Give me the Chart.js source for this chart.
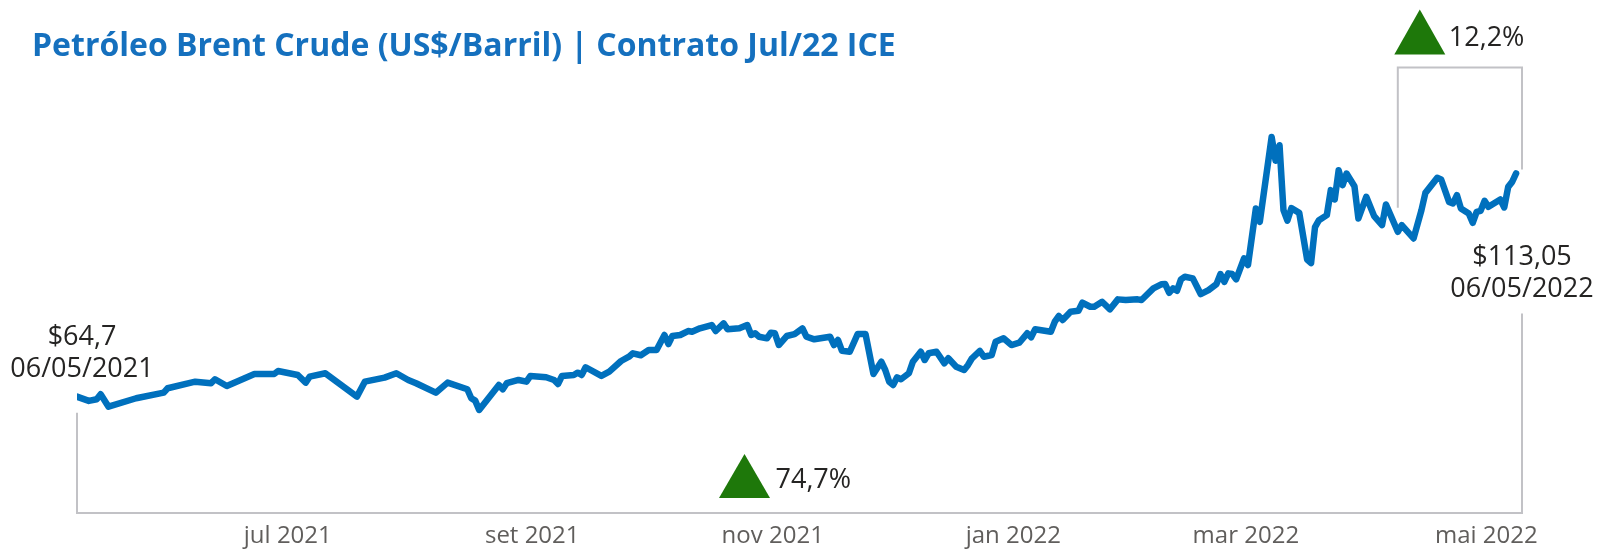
<!DOCTYPE html>
<html lang="pt-BR">
<head>
<meta charset="utf-8">
<title>Petróleo Brent Crude</title>
<script src="https://cdn.jsdelivr.net/npm/chart.js@4.4.1/dist/chart.umd.min.js"></script>
<style>
  html, body { margin: 0; padding: 0; background: #ffffff; }
  #grafico { display: block; }
</style>
</head>
<body>
<canvas id="grafico" width="1613" height="552"></canvas>
<script>
// Dias corridos desde 06/05/2021 e preço de fechamento (US$/barril)
const dias = [
  0, 3, 5, 6, 8, 15, 22, 23, 30, 34, 35, 38, 45, 50, 51, 56, 58, 59, 63, 71,
  73, 78, 81, 84, 86, 91, 94, 99, 100, 101, 102, 107, 108, 109, 112, 114, 115, 119, 121, 122,
  123, 126, 127, 128, 129, 133, 135, 138, 140, 141, 143, 145, 147, 149, 150, 151, 153, 155, 156, 158,
  161, 162, 164, 165, 168, 170, 171, 172, 173, 175, 176, 177, 178, 180, 182, 184, 185, 187, 191, 192,
  193, 194, 196, 198, 200, 202, 204, 205, 206, 207, 208, 209, 211, 212, 214, 215, 216, 218, 220, 221,
  223, 225, 226, 227, 229, 230, 232, 233, 235, 237, 239, 241, 242, 243, 247, 248, 249, 250, 252, 254,
  255, 257, 258, 260, 262, 264, 266, 269, 270, 273, 275, 276, 277, 278, 279, 280, 281, 283, 285, 287,
  289, 290, 291, 292, 293, 294, 296, 297, 299, 300, 303, 304, 305, 306, 307, 308, 310, 312, 313, 314,
  315, 317, 318, 319, 320, 321, 322, 324, 325, 327, 329, 331, 332, 335, 336, 339, 341, 342, 345, 346,
  348, 349, 350, 351, 353, 354, 355, 356, 357, 358, 361, 362, 363, 364, 365
];
const precos = [
  64.70, 63.78, 64.14, 65.23, 62.54, 64.36, 65.57, 66.52, 67.95, 67.61, 68.47, 67.02, 69.62, 69.62, 70.27, 69.40, 67.74, 69.03, 69.77, 64.71,
  67.95, 68.82, 69.77, 68.32, 67.61, 65.57, 67.74, 66.31, 64.36, 63.84, 61.83, 67.24, 66.31, 67.61, 68.32, 67.95, 69.19, 68.90, 68.32, 67.45,
  69.19, 69.40, 69.90, 69.40, 71.07, 69.19, 70.12, 72.43, 73.36, 74.10, 73.67, 74.81, 74.81, 78.06, 76.11, 77.84, 78.06, 78.92, 78.77, 79.51,
  80.22, 78.92, 80.59, 79.29, 79.51, 80.22, 78.06, 78.43, 77.69, 77.34, 78.56, 78.43, 75.89, 77.84, 78.27, 79.51, 77.69, 77.13, 77.69, 75.89,
  76.98, 74.66, 74.44, 78.27, 78.27, 69.62, 72.28, 70.48, 67.95, 67.24, 68.90, 68.47, 69.77, 72.28, 74.44, 72.65, 74.10, 74.44, 71.93, 73.02,
  71.20, 70.48, 71.57, 73.02, 74.60, 73.36, 73.73, 76.61, 77.34, 75.89, 76.39, 78.43, 77.56, 79.29, 78.77, 80.94, 82.17, 81.30, 83.10, 83.32,
  85.05, 84.18, 84.18, 85.26, 83.62, 85.78, 85.63, 85.78, 85.63, 88.16, 89.03, 89.09, 87.21, 88.16, 87.64, 90.11, 90.67, 90.33, 86.93, 87.80,
  89.09, 91.26, 89.59, 91.41, 91.26, 90.11, 94.66, 93.21, 105.48, 102.58, 120.97, 115.82, 119.17, 105.11, 102.84, 105.54, 104.52, 94.40, 93.64, 101.43,
  102.94, 104.03, 109.44, 107.42, 113.76, 110.52, 113.05, 110.30, 103.31, 107.99, 103.81, 101.86, 106.34, 100.41, 101.86, 98.98, 105.11, 108.85, 112.10, 111.75,
  106.90, 106.56, 108.35, 105.48, 104.39, 102.36, 104.74, 104.96, 107.12, 105.82, 107.42, 105.69, 110.15, 111.23, 113.05
];

// Rótulos do eixo x (início de cada mês, em dias desde 06/05/2021)
const tickDias = [56, 118, 179, 240, 299, 360];
const tickRotulos = ['jul 2021', 'set 2021', 'nov 2021', 'jan 2022', 'mar 2022', 'mai 2022'];

// Anotações
const titulo = 'Petróleo Brent Crude (US$/Barril) | Contrato Jul/22 ICE';
const rotuloInicio = ['$64,7', '06/05/2021'];
const rotuloFim = ['$113,05', '06/05/2022'];
const variacaoAno = '74,7%';
const variacaoMes = '12,2%';
const diaInicioMes = 335; // início da chave de 12,2%

const corLinha = '#0070BD';
const corTexto = '#252423';
const corChave = '#C2C2C6';
const corSeta = '#1E780A';
const fonte = "'Open Sans', 'Noto Sans', sans-serif";

// Desenha um triângulo verde (seta de alta)
function desenharTriangulo(ctx, cx, base, largura, altura) {
  ctx.beginPath();
  ctx.moveTo(cx - largura / 2, base);
  ctx.lineTo(cx + largura / 2, base);
  ctx.lineTo(cx, base - altura);
  ctx.closePath();
  ctx.fillStyle = corSeta;
  ctx.fill();
}

// Plugin para as chaves, triângulos e rótulos
const anotacoes = {
  id: 'anotacoes',
  afterDraw(chart) {
    const ctx = chart.ctx;
    const xs = chart.scales.x;
    const ys = chart.scales.y;
    const area = chart.chartArea;
    const n = dias.length - 1;

    const x0 = xs.getPixelForValue(dias[0]);
    const y0 = ys.getPixelForValue(precos[0]);
    const xN = area.right;
    const yN = ys.getPixelForValue(precos[n]);

    ctx.save();
    ctx.strokeStyle = corChave;
    ctx.lineWidth = 2;

    // chave inferior (período de 12 meses)
    ctx.beginPath();
    ctx.moveTo(x0, y0 + 16);
    ctx.lineTo(x0, area.bottom);
    ctx.moveTo(xN, yN + 140);
    ctx.lineTo(xN, area.bottom);
    ctx.stroke();

    // chave superior (último mês)
    const xM = xs.getPixelForValue(diaInicioMes);
    const yM = ys.getPixelForValue(precos[dias.indexOf(diaInicioMes)]);
    const yTopo = area.top - 26;
    ctx.beginPath();
    ctx.moveTo(xM, yM - 24);
    ctx.lineTo(xM, yTopo);
    ctx.lineTo(xN, yTopo);
    ctx.lineTo(xN, yN - 4);
    ctx.stroke();

    // rótulos de início e fim
    ctx.fillStyle = corTexto;
    ctx.font = '27px ' + fonte;
    ctx.textAlign = 'center';
    ctx.textBaseline = 'alphabetic';
    ctx.fillText(rotuloInicio[0], x0 + 5, y0 - 52);
    ctx.fillText(rotuloInicio[1], x0 + 5, y0 - 20);
    ctx.fillText(rotuloFim[0], xN, yN + 92);
    ctx.fillText(rotuloFim[1], xN, yN + 124);

    // variação em 12 meses
    const meio = (x0 + xN) / 2;
    desenharTriangulo(ctx, meio - 55, area.bottom - 15, 51, 44);
    ctx.textAlign = 'left';
    ctx.fillStyle = corTexto;
    ctx.fillText(variacaoAno, meio - 24, area.bottom - 25);

    // variação no último mês
    desenharTriangulo(ctx, xM + 22, yTopo - 13, 51, 45);
    ctx.fillStyle = corTexto;
    ctx.fillText(variacaoMes, xM + 51, yTopo - 21);
    ctx.restore();
  }
};

const grafico = new Chart(document.getElementById('grafico'), {
  type: 'line',
  data: {
    datasets: [{
      data: dias.map((d, i) => ({ x: d, y: precos[i] })),
      borderColor: corLinha,
      borderWidth: 6.5,
      borderJoinStyle: 'round',
      borderCapStyle: 'round',
      pointRadius: 0,
      tension: 0,
      fill: false
    }]
  },
  options: {
    responsive: false,
    animation: false,
    devicePixelRatio: 1,
    layout: { padding: { left: 32, right: 91, top: 0, bottom: 0 } },
    plugins: {
      legend: { display: false },
      tooltip: { enabled: false },
      title: {
        display: true,
        text: titulo,
        align: 'start',
        color: '#1570BE',
        font: { family: fonte, size: 32, weight: 'bold' },
        padding: { top: 28, bottom: 27 }
      }
    },
    scales: {
      x: {
        type: 'linear',
        min: 0,
        max: 366.5,
        grid: { display: false, drawTicks: false },
        border: { display: true, color: corChave, width: 2 },
        ticks: {
          autoSkip: false,
          maxRotation: 0,
          padding: 9,
          labelOffset: -10,
          color: '#605E5C',
          font: { family: fonte, size: 24 },
          callback: (value) => tickRotulos[tickDias.indexOf(value)]
        },
        afterBuildTicks: (scale) => { scale.ticks = tickDias.map(v => ({ value: v })); },
        afterFit: (scale) => { scale.height = 39; }
      },
      y: {
        min: 39.5,
        max: 130.4,
        grid: { display: false, drawTicks: false },
        border: { display: false },
        ticks: { display: false },
        afterFit: (scale) => { scale.width = 45; }
      }
    }
  },
  plugins: [anotacoes]
});
</script>
</body>
</html>
